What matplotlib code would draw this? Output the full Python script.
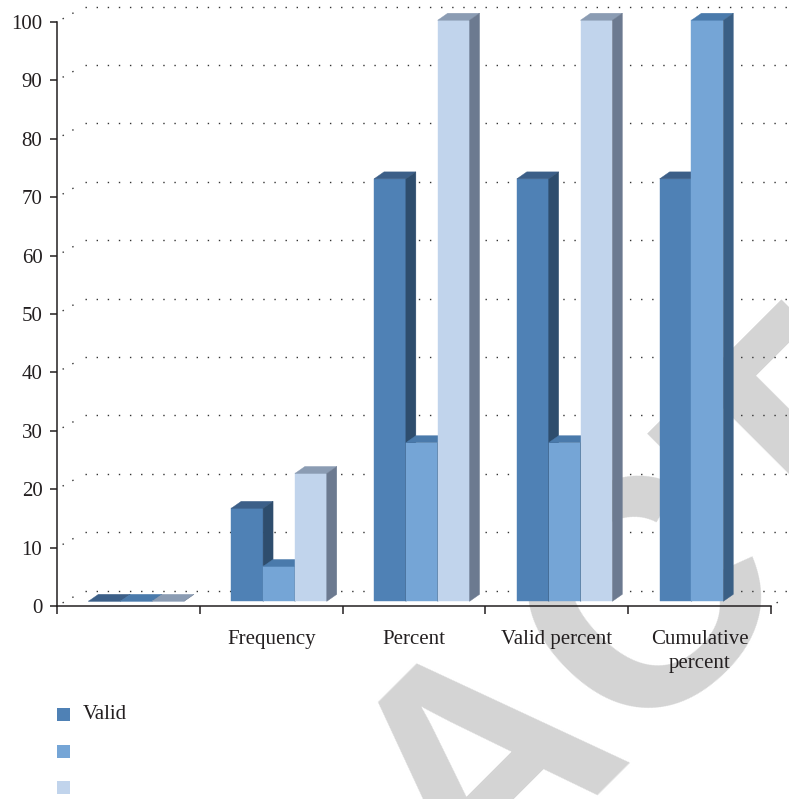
import matplotlib.pyplot as plt
from matplotlib.patches import Polygon, Rectangle
import numpy as np

categories = ["", "Frequency", "Percent", "Valid percent", "Cumulative\npercent"]
series = ["Valid", "", ""]
valid = [0, 16, 72.7, 72.7, 72.7]
second = [0, 6, 27.3, 27.3, 100]
third = [0, 22, 100, 100, np.nan]
yticks = [0, 10, 20, 30, 40, 50, 60, 70, 80, 90, 100]

front = ["#4f81b5", "#75a5d6", "#c1d4ec"]
top = ["#3c5f88", "#4a7aab", "#8b9cb3"]
side = ["#2e4d6d", "#3a5f85", "#6c7a90"]

W, H = 789, 799
fig = plt.figure(figsize=(W / 100, H / 100), dpi=100)
fig.patch.set_facecolor("white")

# watermark behind everything
fig.text(549 / W, 1 - 823 / H, "RETRACTED", fontsize=232, fontweight="bold",
         family="Liberation Sans", color="#d4d4d4", rotation=45,
         rotation_mode="anchor", ha="center", va="baseline", zorder=-5)

ax = fig.add_axes([57 / W, 1 - 606 / H, (771 - 57) / W, (606 - 22) / H])
ax.patch.set_alpha(0)
ax.set_xlim(-0.5, 4.5)
ax.set_ylim(0, 100)

pxx = (771 - 57) / 5.0   # px per category
pxy = (606 - 22) / 100.0  # px per unit
dx, dy = 10 / pxx, 7 / pxy          # bar depth
wdx, wdy = 28 / pxx, 15.5 / pxy     # back wall offset
base = 0.8
bw = 0.223

grid_kw = dict(color="#333333", lw=1.0, linestyle=(0, (1, 7)), clip_on=False, zorder=1)
for t in yticks:
    ax.plot([-0.5 + wdx, 4.5 + wdx], [t + wdy, t + wdy], **grid_kw)
    ax.plot([-0.5 + 0.2 * wdx, -0.5 + 0.85 * wdx], [t + 0.2 * wdy, t + 0.85 * wdy], **grid_kw)
ax.plot([4.5 + 0.2 * wdx, 4.5 + 0.5 * wdx], [0.2 * wdy, 0.5 * wdy], **grid_kw)

data = [valid, second, third]
z = 2
for i in range(len(categories)):
    for s, vals in enumerate(data):
        v = vals[i]
        if np.isnan(v):
            continue
        x0 = i - 0.28 + s * bw
        x1 = x0 + bw
        y1 = base + v * 0.995
        faces = [
            ([(x0, base), (x1, base), (x1, y1), (x0, y1)], front[s]),
            ([(x0, y1), (x1, y1), (x1 + dx, y1 + dy), (x0 + dx, y1 + dy)], top[s]),
            ([(x1, base), (x1 + dx, base + dy), (x1 + dx, y1 + dy), (x1, y1)], side[s]),
        ]
        for pts, c in faces:
            ax.add_patch(Polygon(pts, closed=True, facecolor=c, edgecolor=c,
                                 lw=0.3, clip_on=False, zorder=z))
        z += 1

for sp in ["top", "right"]:
    ax.spines[sp].set_visible(False)
for sp in ["left", "bottom"]:
    ax.spines[sp].set_color("#231f20")
    ax.spines[sp].set_linewidth(1.1)
    ax.spines[sp].set_zorder(50)

ax.set_yticks(yticks)
ax.set_yticklabels([str(t) for t in yticks])
ax.set_xticks(range(len(categories)))
ax.set_xticklabels(categories, linespacing=1.35)
ax.set_xticks(np.arange(-0.5, 5, 1), minor=True)
ax.tick_params(axis="x", which="major", length=0, pad=17)
ax.tick_params(axis="x", which="minor", length=6, width=1.1, color="#231f20")
ax.tick_params(axis="y", length=5, width=1.1, color="#231f20", pad=5.5)
for lab in ax.get_xticklabels() + ax.get_yticklabels():
    lab.set_family("Liberation Serif")
    lab.set_fontsize(15)
    lab.set_color("#231f20")

# legend
for k, name in enumerate(series):
    yc = 714.5 + k * 36.5
    fig.patches.append(Rectangle((57 / W, 1 - (yc + 6.5) / H), 13 / W, 13 / H,
                                 transform=fig.transFigure, facecolor=front[k],
                                 edgecolor="none"))
    fig.text(83 / W, 1 - yc / H, name, family="Liberation Serif", fontsize=15,
             color="#231f20", va="center", ha="left")

fig.savefig("out.png", dpi=100)
